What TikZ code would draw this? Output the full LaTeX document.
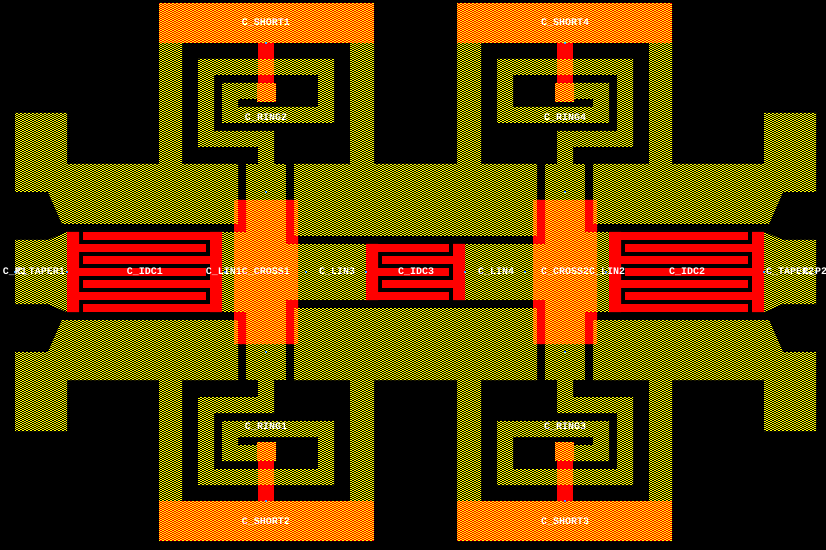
\documentclass[tikz,border=0pt]{standalone}
\usepackage{fontspec}
\setmonofont{Liberation Mono}
\definecolor{hy}{HTML}{FFFF00}
\definecolor{hr}{HTML}{FF0000}
\definecolor{port}{HTML}{3F9FFF}
\tikzset{
  lbl/.style={text=white,font=\ttfamily\bfseries\fontsize{10bp}{10bp}\selectfont,inner sep=0pt,anchor=base},
  pin/.style={fill=port,draw=none}
}
\newcommand\xmirror[1]{#1\begin{scope}[cm={-1,0,0,1,(831bp,0bp)}]#1\end{scope}}
\newcommand\ymirror[1]{#1\begin{scope}[cm={1,0,0,-1,(0bp,-544bp)}]#1\end{scope}}
\newcommand\fourway[1]{\xmirror{\ymirror{#1}}}
\newcommand\rowsweep[1]{%
  \begin{scope}[#1,line width=1bp,dash pattern=on 2bp off 2bp]
    \foreach \r in {0,2,...,548}{\draw (0,\r.5) -- (826,\r.5);}
  \end{scope}
  \begin{scope}[#1,line width=1bp,dash pattern=on 2bp off 2bp,dash phase=2bp]
    \foreach \r in {1,3,...,549}{\draw (0,\r.5) -- (826,\r.5);}
  \end{scope}}
\begin{document}
\begin{tikzpicture}[x=1bp,y=-1bp]
\useasboundingbox (0,0) rectangle (826,550);
\fill[black] (0,0) rectangle (826,550);
% yellow conductor
\fourway{\fill[hy] (15,113)--(67,113)--(67,164)--(159,164)--(159,43)--(182,43)--(182,164)--(238,164)--(238,200)--(234,200)--(234,224)--(62,224)--(48,192)--(15,192)--cycle;
 \fill[hy] (246,164) rectangle (286,200);
 \fill[hy] (258,164)--(258,147)--(198,147)--(198,59)--(334,59)--(334,123)--(222,123)--(222,83)--(258,83)--(258,99)--(238,99)--(238,107)--(318,107)--(318,75)--(214,75)--(214,131)--(274,131)--(274,164)--cycle;}
\ymirror{\fill[hy] (294,164)--(350,164)--(350,43)--(374,43)--(374,164)--(457,164)--(457,43)--(481,43)--(481,164)--(537,164)--(537,200)--(533,200)--(533,236)--(298,236)--(298,200)--(294,200)--cycle;}
\xmirror{\fill[hy] (15,240)--(48,240)--(67,232)--(67,312)--(48,304)--(15,304)--cycle;
 \fill[hy] (222,232) rectangle (234,312);}
\fill[hy] (298,244) rectangle (366,300);
\fill[hy] (465,244) rectangle (533,300);
\rowsweep{black}
% red stems under the orange
\fourway{\fill[hr] (258,43) rectangle (274,83);}
% orange: yellow crossed with red
\fourway{\fill[hy] (159,3) rectangle (374,43);
 \fill[hy] (234,200) rectangle (298,344);
 \fill[hy] (257,83) rectangle (276,102);
 \fill[hy] (258,59) rectangle (274,75);}
\begin{scope}
 \clip (159,3) rectangle (374,43) (457,3) rectangle (672,43) (159,501) rectangle (374,541) (457,501) rectangle (672,541)
  (234,200) rectangle (298,344) (533,200) rectangle (597,344)
  (257,83) rectangle (276,102) (555,83) rectangle (574,102) (257,442) rectangle (276,461) (555,442) rectangle (574,461)
  (258,59) rectangle (274,75) (557,59) rectangle (573,75) (258,469) rectangle (274,485) (557,469) rectangle (573,485);
 \rowsweep{hr}
\end{scope}
% red on the crosses
\fourway{\fill[hr] (238,200)--(246,200)--(246,232)--(234,232)--(234,224)--(238,224)--cycle;
 \fill[hr] (286,200)--(294,200)--(294,236)--(298,236)--(298,244)--(286,244)--cycle;}
% interdigital capacitors 1 and 2
\xmirror{\fill[hr] (67,232) rectangle (79,312) (210,232) rectangle (222,312);
 \foreach \yy in {232,256,280,304}{\fill[hr] (83,\yy) rectangle (222,\yy+8);}
 \foreach \yy in {244,268,292}{\fill[hr] (67,\yy) rectangle (206,\yy+8);}}
% interdigital capacitor 3
\fill[hr] (366,244) rectangle (378,300) (453,244) rectangle (465,300);
\foreach \yy in {244,268,292}{\fill[hr] (366,\yy) rectangle (449,\yy+8);}
\foreach \yy in {256,280}{\fill[hr] (382,\yy) rectangle (465,\yy+8);}
% port marks
\foreach \px/\py in {15/272,67/272,225/272,306/272,366/272,465/272,525/272,606/272,764/272,816/272,
  266/43,266/192,266/352,266/501,565/43,565/192,565/352,565/501}{
  \fill[pin] (\px-1,\py-1) rectangle (\px+1,\py+1);}
% labels
\node[lbl] (short1) at (266,26) {C\_SHORT1};
\node[lbl] (short4) at (565,26) {C\_SHORT4};
\node[lbl] (short2) at (266,524) {C\_SHORT2};
\node[lbl] (short3) at (565,524) {C\_SHORT3};
\node[lbl] (ring2) at (266,121) {C\_RING2};
\node[lbl] (ring4) at (565,121) {C\_RING4};
\node[lbl] (ring1) at (266,429) {C\_RING1};
\node[lbl] (ring3) at (565,429) {C\_RING3};
\node[lbl] (idc1) at (145,275) {C\_IDC1};
\node[lbl] (idc3) at (416,275) {C\_IDC3};
\node[lbl] (idc2) at (687,275) {C\_IDC2};
\node[lbl] (lin1) at (224,275) {C\_LIN1};
\node[lbl] (lin3) at (337,275) {C\_LIN3};
\node[lbl] (lin4) at (496,275) {C\_LIN4};
\node[lbl] (lin2) at (607,275) {C\_LIN2};
\node[lbl] (cross1) at (266,275) {C\_CROSS1};
\node[lbl] (cross2) at (565,275) {C\_CROSS2};
\node[lbl] (p1) at (15,275) {C\_P1};
\node[lbl] (taper1) at (41,275) {C\_TAPER1};
\node[lbl] (taper2) at (790,275) {C\_TAPER2};
\node[lbl] (p2) at (815,275) {C\_P2};
\end{tikzpicture}
\end{document}
